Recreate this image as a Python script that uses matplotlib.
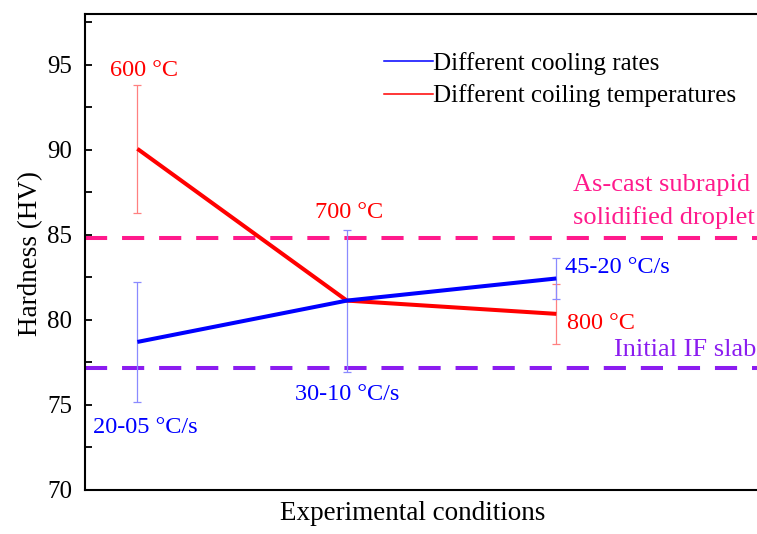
import matplotlib
matplotlib.use("Agg")
import matplotlib.pyplot as plt
from matplotlib.lines import Line2D
from matplotlib.ticker import MultipleLocator

plt.rcParams['font.family'] = ['Liberation Serif', 'DejaVu Serif']

# data
positions = [1, 2, 3]
cooling_labels = ["20-05 °C/s", "30-10 °C/s", "45-20 °C/s"]
cooling_hv = [78.7, 81.13, 82.43]
cooling_err = [3.5, 4.17, 1.2]
coiling_labels = ["600 °C", "700 °C", "800 °C"]
coiling_hv = [90.05, 81.13, 80.35]
coiling_err = [3.75, 0.0, 1.75]
as_cast_hv = 84.78
initial_slab_hv = 77.16

W, H = 757, 534
fig = plt.figure(figsize=(W / 100, H / 100), dpi=100)
left, right, top, bottom = 85, 770, 13.5, 490
ax = fig.add_axes([left / W, (H - bottom) / H, (right - left) / W, (bottom - top) / H])

blue = '#0000ff'
red = '#ff0000'
pink = '#ff1a8c'
purple = '#8b1cf0'

# reference lines
dash = (0, (5.5, 3.7))
ax.axhline(as_cast_hv, color=pink, lw=2.9, ls=dash, zorder=1)
ax.axhline(initial_slab_hv, color=purple, lw=2.9, ls=dash, zorder=1)

# error bars
ax.errorbar(positions, coiling_hv, yerr=coiling_err, fmt='none', ecolor='#ff8080',
            elinewidth=0.9, capsize=3.2, capthick=0.9, zorder=2)
ax.errorbar(positions, cooling_hv, yerr=cooling_err, fmt='none', ecolor='#8a8aff',
            elinewidth=0.9, capsize=3.2, capthick=0.9, zorder=2)

# lines
ax.plot(positions, coiling_hv, color=red, lw=2.9, zorder=3, solid_capstyle='butt')
ax.plot(positions, cooling_hv, color=blue, lw=2.9, zorder=4, solid_capstyle='butt')

fs_ann = 17.5
fs_ref = 19
# labels
ax.text(1.03, 94.65, coiling_labels[0], color=red, fontsize=fs_ann, ha='center', va='center')
ax.text(2.01, 86.3, coiling_labels[1], color=red, fontsize=fs_ann, ha='center', va='center')
ax.text(3.05, 79.8, coiling_labels[2], color=red, fontsize=fs_ann, ha='left', va='center')
ax.text(1.04, 73.7, cooling_labels[0], color=blue, fontsize=fs_ann, ha='center', va='center')
ax.text(2.0, 75.6, cooling_labels[1], color=blue, fontsize=fs_ann, ha='center', va='center')
ax.text(3.041, 83.1, cooling_labels[2], color=blue, fontsize=fs_ann, ha='left', va='center')
ax.text(3.079, 87.9, "As-cast subrapid", color=pink, fontsize=fs_ref, ha='left', va='center')
ax.text(3.079, 86.0, "solidified droplet", color=pink, fontsize=fs_ref, ha='left', va='center')
ax.text(3.275, 78.2, "Initial IF slab", color=purple, fontsize=fs_ref, ha='left', va='center')

ax.set_xlim(0.75, 4.02)
ax.set_ylim(70, 98)
ax.yaxis.set_major_locator(MultipleLocator(5))
ax.yaxis.set_minor_locator(MultipleLocator(2.5))
ax.tick_params(axis='y', which='major', direction='in', length=5, width=1.3, labelsize=18, pad=9)
ax.tick_params(axis='y', which='minor', direction='in', length=5, width=1.3)
ax.set_xticks([])
for s in ax.spines.values():
    s.set_linewidth(1.5)

ax.set_ylabel("Hardness (HV)", fontsize=19.5)
ax.yaxis.set_label_coords(-(85 - 31) / (right - left), (bottom - 253) / (bottom - top))
ax.set_xlabel("Experimental conditions", fontsize=19.5)
ax.xaxis.set_label_coords((413 - left) / (right - left), -(513 - bottom) / (bottom - top))
ax.xaxis.label.set_va('center')
ax.yaxis.label.set_va('center')

handles = [Line2D([], [], color=blue, lw=1.1), Line2D([], [], color=red, lw=1.1)]
ax.legend(handles, ["Different cooling rates", "Different coiling temperatures"],
          loc='upper left', bbox_to_anchor=((384 - left) / (right - left), (bottom - 52) / (bottom - top)),
          frameon=False, fontsize=18, handlelength=1.95, handletextpad=0.0,
          borderpad=0, borderaxespad=0, labelspacing=0.38)

fig.savefig("out.png", dpi=100)
